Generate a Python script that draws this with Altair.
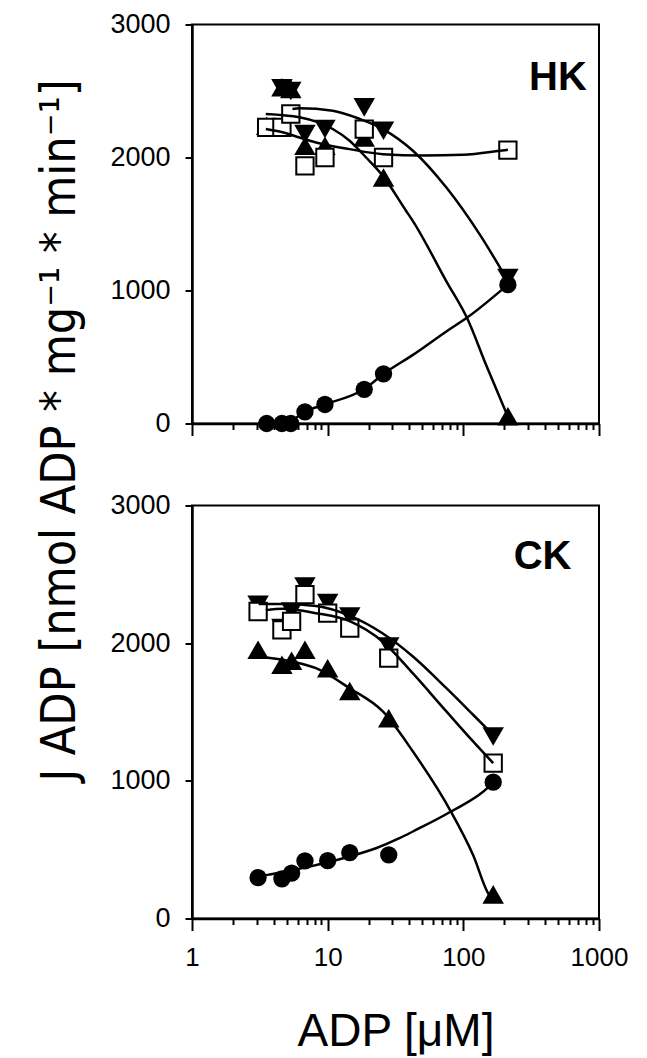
import altair as alt
import pandas as pd

# ---------------- data ----------------
X_HK = [3.55, 4.6, 5.35, 6.8, 9.55, 18.6, 25.8, 213]
HK_CIRCLE = [0, 0, 0, 88, 143, 257, 373, 1044]
HK_UP = [2239, 2528, 2516, 2088, 2088, 2151, 1849, 55]
HK_DOWN = [None, 2520, 2500, 2176, 2214, 2377, 2201, 1094]
HK_SQUARE = [2226, 2226, 2327, 1937, 2000, 2214, 2000, 2056]

X_CK = [3.07, 4.6, 5.42, 6.8, 10.0, 14.55, 28.2, 166]
CK_CIRCLE = [297, 288, 329, 418, 421, 479, 462, 990]
CK_UP = [1952, 1843, 1872, 1952, 1818, 1652, 1455, 175]
CK_DOWN = [2279, 2109, 2230, 2412, 2291, 2194, 1976, 1322]
CK_SQUARE = [2230, 2097, 2158, 2352, 2218, 2109, 1891, 1128]

# fitted curves
HK_CIRCLE_FIT_X = [3.6, 5.4, 6.8, 9.5, 18.5, 25.8, 42.5, 75, 108, 213]
HK_CIRCLE_FIT_Y = [0, 25, 88, 143, 257, 373, 516, 692, 800, 1044]
HK_UP_FIT_X = [3.5, 6.2, 10.9, 14.5, 19.2, 25.5, 37.9, 42.5, 75, 108, 147, 213]
HK_UP_FIT_Y = [2327, 2302, 2214, 2126, 2000, 1862, 1598, 1522, 1069, 780, 441, 50]
HK_DOWN_FIT_X = [5.5, 6.2, 10.9, 17.2, 25.5, 42.5, 75, 132, 207]
HK_DOWN_FIT_Y = [2365, 2370, 2352, 2290, 2214, 2051, 1774, 1422, 1094]
HK_SQUARE_FIT_X = [3.5, 4.65, 6.2, 8.2, 14.5, 25.5, 50, 100, 185, 213]
HK_SQUARE_FIT_Y = [2215, 2190, 2150, 2113, 2063, 2025, 2015, 2020, 2050, 2058]

CK_CIRCLE_FIT_X = [3.1, 3.6, 7.35, 14.5, 22.7, 33.8, 42.5, 81, 155, 166]
CK_CIRCLE_FIT_Y = [305, 317, 377, 450, 510, 583, 632, 777, 959, 990]
CK_UP_FIT_X = [3.0, 4.66, 8.2, 14.5, 25.5, 42.5, 81, 118, 155, 162]
CK_UP_FIT_Y = [1903, 1879, 1818, 1673, 1504, 1213, 777, 462, 172, 150]
CK_DOWN_FIT_X = [3.1, 4.66, 8.2, 14.5, 25.5, 42.5, 75, 118, 161]
CK_DOWN_FIT_Y = [2285, 2285, 2270, 2200, 2070, 1903, 1673, 1480, 1346]
CK_SQUARE_FIT_X = [3.5, 4.66, 8.2, 14.5, 25.5, 42.5, 75, 118, 166]
CK_SQUARE_FIT_Y = [2240, 2250, 2218, 2160, 2010, 1780, 1504, 1286, 1128]

X_TICKS = [1, 2, 3, 4, 5, 6, 7, 8, 9, 10, 20, 30, 40, 50, 60, 70, 80, 90,
           100, 200, 300, 400, 500, 600, 700, 800, 900, 1000]
Y_TICKS = [0, 1000, 2000, 3000]
DECADES = [1, 10, 100, 1000]

Y_TITLE = "J ADP [nmol ADP * mg\u207b\u00b9 * min\u207b\u00b9]"
X_TITLE = "ADP [\u03bcM]"

FONT = "Liberation Sans"
NARROW = "DejaVu Sans Condensed, Liberation Sans, sans-serif"


def long_points(xs, series):
    rows = []
    for name, vals in series.items():
        for x, y in zip(xs, vals):
            if y is not None:
                rows.append({"x": x, "y": y, "series": name})
    return pd.DataFrame(rows)


def long_fits(fits):
    rows = []
    for name, (xs, ys) in fits.items():
        for x, y in zip(xs, ys):
            rows.append({"x": x, "y": y, "series": name})
    return pd.DataFrame(rows)


major_test = " || ".join(f"datum.value == {d}" for d in DECADES)


def make_panel(xs, series, fits, label, label_x, label_y, height, bottom, ytitle):
    pts = long_points(xs, series)
    fit_df = long_fits(fits)

    x_axis_kw = dict(
        values=X_TICKS,
        tickSize={"condition": {"test": major_test, "value": 12}, "value": 6},
        tickWidth=2, tickColor="black",
        domainWidth=2.5, domainColor="black",
        grid=False,
    )
    if bottom:
        x_axis = alt.Axis(
            labels=True, format="d",
            labelExpr=f"({major_test}) ? datum.label : ''",
            labelFlush=False, labelOverlap=False,
            labelFont=FONT, labelFontSize=26, labelColor="black", labelPadding=14,
            title=X_TITLE, titleFont=FONT, titleFontSize=46, titleFontWeight="normal",
            titleColor="black", titlePadding=39,
            **x_axis_kw,
        )
    else:
        x_axis = alt.Axis(labels=False, title=None, **x_axis_kw)

    y_axis_kw = dict(
        values=Y_TICKS, format="d", tickSize=7, tickWidth=2, tickColor="black",
        domainWidth=2.5, domainColor="black", grid=False,
        labelFont=FONT, labelFontSize=27, labelColor="black", labelPadding=15,
    )
    if ytitle:
        y_axis = alt.Axis(
            title=Y_TITLE, titleFont=NARROW, titleFontSize=48,
            titleFontWeight="normal", titleColor="black", titleAngle=270,
            titleAlign="center", titleBaseline="alphabetic",
            titleX=-117.7, titleY=405.5,
            **y_axis_kw,
        )
    else:
        y_axis = alt.Axis(title=None, **y_axis_kw)

    X = alt.X("x:Q", scale=alt.Scale(type="log", domain=[1, 1000], nice=False), axis=x_axis)
    Y = alt.Y("y:Q", scale=alt.Scale(domain=[0, 3000], nice=False, zero=False), axis=y_axis)

    base = alt.Chart(pts)
    up = base.transform_filter(alt.datum.series == "up").mark_point(
        shape="triangle-up", filled=True, color="black", size=460, opacity=1
    ).encode(x=X, y=Y)
    down = base.transform_filter(alt.datum.series == "down").mark_point(
        shape="triangle-down", filled=True, color="black", size=460, opacity=1
    ).encode(x=X, y=Y)
    square = base.transform_filter(alt.datum.series == "square").mark_point(
        shape="square", fill="white", stroke="black", strokeWidth=2, size=300,
        opacity=1, fillOpacity=1
    ).encode(x=X, y=Y)
    circle = base.transform_filter(alt.datum.series == "circle").mark_point(
        shape="circle", filled=True, color="black", size=300, opacity=1
    ).encode(x=X, y=Y)
    lines = alt.Chart(fit_df).mark_line(
        color="black", strokeWidth=2.5, interpolate="monotone"
    ).encode(x=X, y=Y, detail="series:N")
    text = alt.Chart(pd.DataFrame({"label": [label]})).mark_text(
        font=FONT, fontSize=40, fontWeight="bold", color="black",
        align="center", baseline="middle"
    ).encode(text="label:N", x=alt.value(label_x), y=alt.value(label_y))

    return alt.layer(up, down, square, circle, lines, text).properties(
        width=407, height=height
    )


top = make_panel(
    X_HK,
    {"up": HK_UP, "down": HK_DOWN, "square": HK_SQUARE, "circle": HK_CIRCLE},
    {
        "circle": (HK_CIRCLE_FIT_X, HK_CIRCLE_FIT_Y),
        "up": (HK_UP_FIT_X, HK_UP_FIT_Y),
        "down": (HK_DOWN_FIT_X, HK_DOWN_FIT_Y),
        "square": (HK_SQUARE_FIT_X, HK_SQUARE_FIT_Y),
    },
    "HK", 366, 53, 399, False, True,
)
bottom = make_panel(
    X_CK,
    {"up": CK_UP, "down": CK_DOWN, "square": CK_SQUARE, "circle": CK_CIRCLE},
    {
        "circle": (CK_CIRCLE_FIT_X, CK_CIRCLE_FIT_Y),
        "up": (CK_UP_FIT_X, CK_UP_FIT_Y),
        "down": (CK_DOWN_FIT_X, CK_DOWN_FIT_Y),
        "square": (CK_SQUARE_FIT_X, CK_SQUARE_FIT_Y),
    },
    "CK", 350.6, 51, 413, True, False,
)

chart = alt.vconcat(top, bottom, spacing=82, bounds="flush").properties(
    padding={"left": 27, "top": 1.5, "right": 5, "bottom": 0},
    background="white",
).configure_view(stroke="black", strokeWidth=2)

chart.save("out.html", embed_options={"renderer": "svg", "actions": False})
